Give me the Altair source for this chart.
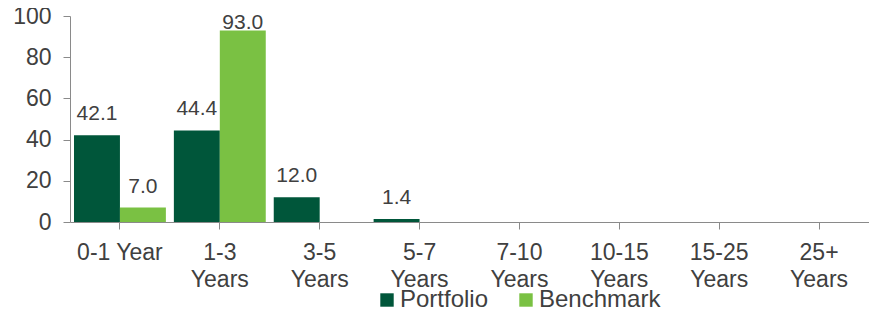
import altair as alt
import pandas as pd

categories = ["0-1 Year", "1-3\nYears", "3-5\nYears", "5-7\nYears",
              "7-10\nYears", "10-15\nYears", "15-25\nYears", "25+\nYears"]
portfolio = [42.1, 44.4, 12.0, 1.4, 0, 0, 0, 0]
benchmark = [7.0, 93.0, 0, 0, 0, 0, 0, 0]
series = ["Portfolio", "Benchmark"]
colors = ["#00563A", "#7AC143"]
y_ticks = [0, 20, 40, 60, 80, 100]

rows = []
for c, p, b in zip(categories, portfolio, benchmark):
    rows.append({"cat": c, "series": "Portfolio", "value": p})
    rows.append({"cat": c, "series": "Benchmark", "value": b})
df = pd.DataFrame(rows)

FONT = "Liberation Sans"
TXT = "#404040"
AX = "#8a8a8a"

x_enc = alt.X(
    "cat:N", sort=categories,
    scale=alt.Scale(paddingInner=0.08, paddingOuter=0.04),
    axis=alt.Axis(title=None, labelAngle=0, labelExpr="split(datum.label, '\\n')",
                  labelFontSize=23, labelLineHeight=27, labelColor=TXT, labelFont=FONT,
                  tickSize=7, labelPadding=12, domainColor=AX, tickColor=AX,
                  labelOverlap=False, labelBaseline="top"),
)
xo_enc = alt.XOffset("series:N", sort=series, scale=alt.Scale(paddingInner=0, paddingOuter=0))

base = alt.Chart(df)

bars = base.mark_bar().encode(
    x=x_enc,
    xOffset=xo_enc,
    y=alt.Y("value:Q", scale=alt.Scale(domain=[0, 100], nice=False),
            axis=alt.Axis(title=None, values=y_ticks, grid=False, labelFontSize=23,
                          labelColor=TXT, labelFont=FONT, tickSize=7, labelPadding=12,
                          domainColor=AX, tickColor=AX)),
    color=alt.Color("series:N", sort=series,
                    scale=alt.Scale(domain=series, range=colors),
                    legend=alt.Legend(title=None, orient="none", direction="horizontal",
                                      legendX=305, legendY=272, symbolType="square",
                                      symbolSize=180, symbolStrokeWidth=0,
                                      labelFontSize=24, labelFont=FONT, labelColor=TXT,
                                      labelOffset=1, columnPadding=25, padding=0)),
)

labels = base.transform_filter("datum.value > 0").transform_calculate(
    ly="min(datum.value + 7.3, 93.6)"
).mark_text(baseline="alphabetic", fontSize=21, font=FONT, color=TXT).encode(
    x=x_enc,
    xOffset=xo_enc,
    y=alt.Y("ly:Q"),
    text=alt.Text("value:Q", format=".1f"),
)

chart = alt.layer(bars, labels).properties(
    width=799, height=206,
    autosize=alt.AutoSizeParams(type="none"),
    padding={"left": 62, "top": 8, "right": 0, "bottom": 85},
).configure_view(stroke=None)

chart.save("out.html", embed_options={"renderer": "svg", "actions": False})
